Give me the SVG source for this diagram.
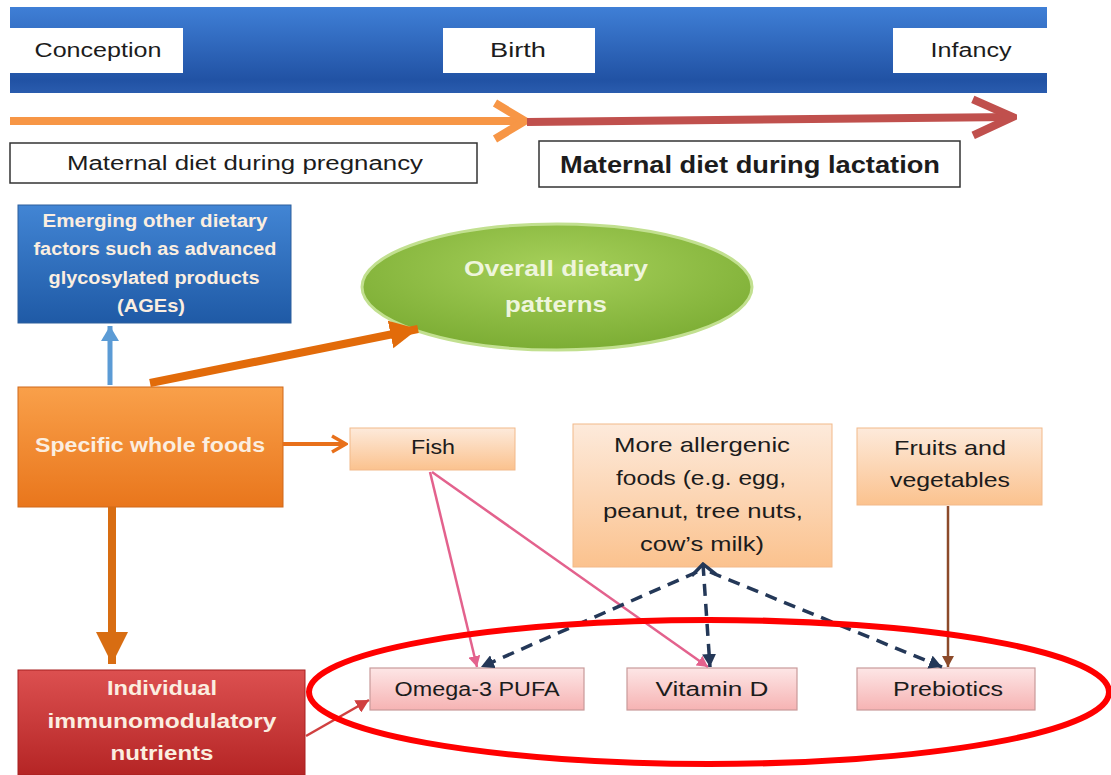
<svg xmlns="http://www.w3.org/2000/svg" width="1111" height="775" viewBox="0 0 1111 775">
<style>
text{font-family:"Liberation Sans",Arial,sans-serif;text-anchor:middle}
.dk{fill:#1c1c1c;font-size:20px}
.wt{fill:#fbeee0;font-size:18px;font-weight:bold}
.peach{fill:url(#gPeach);stroke:#f2b98a;stroke-width:1}
.pink{fill:url(#gPink);stroke:#c99a9a;stroke-width:1.2}
.wbox{fill:#ffffff}
.tl{fill:#ffffff;stroke:#333;stroke-width:1.5}
</style>
<defs>
<linearGradient id="gBanner" x1="0" y1="0" x2="0" y2="1">
<stop offset="0" stop-color="#3f7fd6"/><stop offset="0.85" stop-color="#2152a4"/><stop offset="1" stop-color="#2a5cae"/>
</linearGradient>
<linearGradient id="gBlue" x1="0" y1="0" x2="0" y2="1">
<stop offset="0" stop-color="#4285d4"/><stop offset="1" stop-color="#1f5aa6"/>
</linearGradient>
<linearGradient id="gOrange" x1="0" y1="0" x2="0" y2="1">
<stop offset="0" stop-color="#f9a04a"/><stop offset="1" stop-color="#e9761c"/>
</linearGradient>
<linearGradient id="gRed" x1="0" y1="0" x2="0" y2="1">
<stop offset="0" stop-color="#dc5050"/><stop offset="1" stop-color="#b52525"/>
</linearGradient>
<linearGradient id="gPeach" x1="0" y1="0" x2="0" y2="1">
<stop offset="0" stop-color="#fdeadb"/><stop offset="1" stop-color="#fbc28e"/>
</linearGradient>
<linearGradient id="gPink" x1="0" y1="0" x2="0" y2="1">
<stop offset="0" stop-color="#fde6e6"/><stop offset="1" stop-color="#f6b3b3"/>
</linearGradient>
<radialGradient id="gGreen" cx="0.5" cy="0.35" r="0.65">
<stop offset="0" stop-color="#a6d05a"/><stop offset="1" stop-color="#7cad34"/>
</radialGradient>
<marker id="chevO" viewBox="0 0 20 20" refX="18" refY="10" markerWidth="20" markerHeight="20" markerUnits="userSpaceOnUse" orient="auto">
<polyline points="4,2 18,10 4,18" fill="none" stroke="#e8701a" stroke-width="3.5"/>
</marker>
<marker id="chevTO" viewBox="0 0 40 44" refX="36" refY="22" markerWidth="40" markerHeight="44" markerUnits="userSpaceOnUse" orient="auto">
<polyline points="6,4 36,22 6,40" fill="none" stroke="#f79646" stroke-width="8"/>
</marker>
<marker id="chevTR" viewBox="0 0 50 44" refX="46" refY="22" markerWidth="50" markerHeight="44" markerUnits="userSpaceOnUse" orient="auto">
<polyline points="6,4 46,22 6,40" fill="none" stroke="#c0504d" stroke-width="8"/>
</marker>
<marker id="chevN" viewBox="0 0 16 28" refX="14" refY="14" markerWidth="16" markerHeight="28" markerUnits="userSpaceOnUse" orient="auto-start-reverse">
<polyline points="3,2 14,14 3,26" fill="none" stroke="#243858" stroke-width="3.5"/>
</marker>
<marker id="triO" viewBox="0 0 30 30" refX="28" refY="15" markerWidth="30" markerHeight="30" markerUnits="userSpaceOnUse" orient="auto">
<path d="M0,1 L28,15 L0,29 Z" fill="#e26b0a"/>
</marker>
<marker id="triOD" viewBox="0 0 34 34" refX="32" refY="17" markerWidth="34" markerHeight="34" markerUnits="userSpaceOnUse" orient="auto">
<path d="M0,1 L32,17 L0,33 Z" fill="#d86d12"/>
</marker>
<marker id="triB" viewBox="0 0 16 18" refX="15" refY="9" markerWidth="16" markerHeight="18" markerUnits="userSpaceOnUse" orient="auto">
<path d="M0,0 L15,9 L0,18 Z" fill="#5b9bd5"/>
</marker>
<marker id="triP" viewBox="0 0 12 12" refX="11" refY="6" markerWidth="12" markerHeight="12" markerUnits="userSpaceOnUse" orient="auto">
<path d="M0,0 L11,6 L0,12 Z" fill="#e3628d"/>
</marker>
<marker id="triN" viewBox="0 0 14 14" refX="13" refY="7" markerWidth="14" markerHeight="14" markerUnits="userSpaceOnUse" orient="auto">
<path d="M0,0 L13,7 L0,14 Z" fill="#243858"/>
</marker>
<marker id="triBr" viewBox="0 0 12 12" refX="11" refY="6" markerWidth="12" markerHeight="12" markerUnits="userSpaceOnUse" orient="auto">
<path d="M0,0 L11,6 L0,12 Z" fill="#8c4a2a"/>
</marker>
<marker id="triR" viewBox="0 0 14 14" refX="13" refY="7" markerWidth="14" markerHeight="14" markerUnits="userSpaceOnUse" orient="auto">
<path d="M0,0 L13,7 L0,14 Z" fill="#d04040"/>
</marker>
</defs>
<rect width="1111" height="775" fill="#ffffff"/>

<g id="timeline">
<rect x="10" y="7" width="1037" height="86" fill="url(#gBanner)"/>
<rect class="wbox" x="10" y="28" width="173" height="45"/>
<text class="dk" x="98" y="57" textLength="127" lengthAdjust="spacingAndGlyphs">Conception</text>
<rect class="wbox" x="443" y="28" width="152" height="45"/>
<text class="dk" x="518" y="57" textLength="56" lengthAdjust="spacingAndGlyphs">Birth</text>
<rect class="wbox" x="893" y="28" width="154" height="45"/>
<text class="dk" x="971" y="57" textLength="81" lengthAdjust="spacingAndGlyphs">Infancy</text>
</g>

<g id="pregnancy">
<rect class="tl" x="10" y="143" width="467" height="40"/>
<text class="dk" x="245" y="170" textLength="356" lengthAdjust="spacingAndGlyphs">Maternal diet during pregnancy</text>
</g>
<g id="lactation">
<rect class="tl" x="539" y="141" width="421" height="46"/>
<text class="dk" x="750" y="173" style="font-size:24px;font-weight:bold" textLength="380" lengthAdjust="spacingAndGlyphs">Maternal diet during lactation</text>
</g>

<g id="emerging">
<rect x="18" y="205" width="273" height="118" fill="url(#gBlue)" stroke="#2d5f9c" stroke-width="1"/>
<text class="wt" x="155" y="227" textLength="225" lengthAdjust="spacingAndGlyphs">Emerging other dietary</text>
<text class="wt" x="155" y="255" textLength="243" lengthAdjust="spacingAndGlyphs">factors such as advanced</text>
<text class="wt" x="154" y="284" textLength="211" lengthAdjust="spacingAndGlyphs">glycosylated products</text>
<text class="wt" x="151" y="312" textLength="68" lengthAdjust="spacingAndGlyphs">(AGEs)</text>
</g>

<g id="overall">
<ellipse cx="557" cy="287" rx="195" ry="63" fill="url(#gGreen)" stroke="#c2e090" stroke-width="3"/>
<text x="556" y="276" style="fill:#eef5dc;font-size:22px;font-weight:bold" textLength="184" lengthAdjust="spacingAndGlyphs">Overall dietary</text>
<text x="556" y="312" style="fill:#eef5dc;font-size:22px;font-weight:bold" textLength="102" lengthAdjust="spacingAndGlyphs">patterns</text>
</g>

<g id="specific">
<rect x="18" y="387" width="265" height="120" fill="url(#gOrange)" stroke="#d0681a" stroke-width="1"/>
<text class="wt" x="150" y="452" style="font-size:20px" textLength="230" lengthAdjust="spacingAndGlyphs">Specific whole foods</text>
</g>

<g id="fish">
<rect class="peach" x="350" y="428" width="165" height="42"/>
<text class="dk" x="433" y="454" textLength="44" lengthAdjust="spacingAndGlyphs">Fish</text>
</g>

<g id="allergenic">
<rect class="peach" x="573" y="424" width="259" height="143"/>
<text class="dk" x="702" y="452" style="font-size:21px" textLength="176" lengthAdjust="spacingAndGlyphs">More allergenic</text>
<text class="dk" x="701" y="485" style="font-size:21px" textLength="170" lengthAdjust="spacingAndGlyphs">foods (e.g. egg,</text>
<text class="dk" x="703" y="518" style="font-size:21px" textLength="200" lengthAdjust="spacingAndGlyphs">peanut, tree nuts,</text>
<text class="dk" x="702" y="551" style="font-size:21px" textLength="124" lengthAdjust="spacingAndGlyphs">cow’s milk)</text>
</g>

<g id="fruits">
<rect class="peach" x="857" y="428" width="185" height="77"/>
<text class="dk" x="950" y="455" style="font-size:21px" textLength="112" lengthAdjust="spacingAndGlyphs">Fruits and</text>
<text class="dk" x="950" y="487" style="font-size:21px" textLength="120" lengthAdjust="spacingAndGlyphs">vegetables</text>
</g>

<g id="individual">
<rect x="18" y="670" width="287" height="105" fill="url(#gRed)" stroke="#a82020" stroke-width="1"/>
<text class="wt" x="162" y="695" style="font-size:20px" textLength="110" lengthAdjust="spacingAndGlyphs">Individual</text>
<text class="wt" x="162" y="728" style="font-size:20px" textLength="229" lengthAdjust="spacingAndGlyphs">immunomodulatory</text>
<text class="wt" x="162" y="760" style="font-size:20px" textLength="103" lengthAdjust="spacingAndGlyphs">nutrients</text>
</g>

<g id="omega3">
<rect class="pink" x="370" y="668" width="214" height="42"/>
<text class="dk" x="477" y="696" textLength="165" lengthAdjust="spacingAndGlyphs">Omega-3 PUFA</text>
</g>
<g id="vitaminD">
<rect class="pink" x="627" y="668" width="170" height="42"/>
<text class="dk" x="712" y="696" textLength="113" lengthAdjust="spacingAndGlyphs">Vitamin D</text>
</g>
<g id="prebiotics">
<rect class="pink" x="857" y="668" width="178" height="42"/>
<text class="dk" x="948" y="696" textLength="110" lengthAdjust="spacingAndGlyphs">Prebiotics</text>
</g>

<g id="connectors" fill="none">
<line x1="10" y1="121" x2="525" y2="121" stroke="#f79646" stroke-width="8" marker-end="url(#chevTO)"/>
<line x1="527" y1="122" x2="1013" y2="117" stroke="#c0504d" stroke-width="8" marker-end="url(#chevTR)"/>
<line x1="110" y1="385" x2="110" y2="326" stroke="#5b9bd5" stroke-width="5" marker-end="url(#triB)"/>
<line x1="150" y1="383" x2="418" y2="329" stroke="#e26b0a" stroke-width="8" marker-end="url(#triO)"/>
<line x1="283" y1="444" x2="346" y2="444" stroke="#e8701a" stroke-width="4" marker-end="url(#chevO)"/>
<line x1="112" y1="507" x2="112" y2="664" stroke="#d86d12" stroke-width="8" marker-end="url(#triOD)"/>
<line x1="430" y1="472" x2="477" y2="667" stroke="#e3628d" stroke-width="2.5" marker-end="url(#triP)"/>
<line x1="432" y1="472" x2="708" y2="667" stroke="#e3628d" stroke-width="2.5" marker-end="url(#triP)"/>
<line x1="697" y1="572" x2="481" y2="667" stroke="#243858" stroke-width="3.5" stroke-dasharray="12 8" marker-end="url(#triN)"/>
<line x1="703" y1="564" x2="710" y2="667" stroke="#243858" stroke-width="3.5" stroke-dasharray="12 8" marker-start="url(#chevN)" marker-end="url(#triN)"/>
<line x1="710" y1="572" x2="942" y2="667" stroke="#243858" stroke-width="3.5" stroke-dasharray="12 8" marker-end="url(#triN)"/>
<line x1="948" y1="506" x2="948" y2="667" stroke="#8c4a2a" stroke-width="2.5" marker-end="url(#triBr)"/>
<line x1="306" y1="736" x2="369" y2="700" stroke="#d04040" stroke-width="2.5" marker-end="url(#triR)"/>
</g>

<g id="highlight">
<ellipse cx="709" cy="692" rx="400" ry="72" fill="none" stroke="#ff0000" stroke-width="6"/>
</g>
</svg>
